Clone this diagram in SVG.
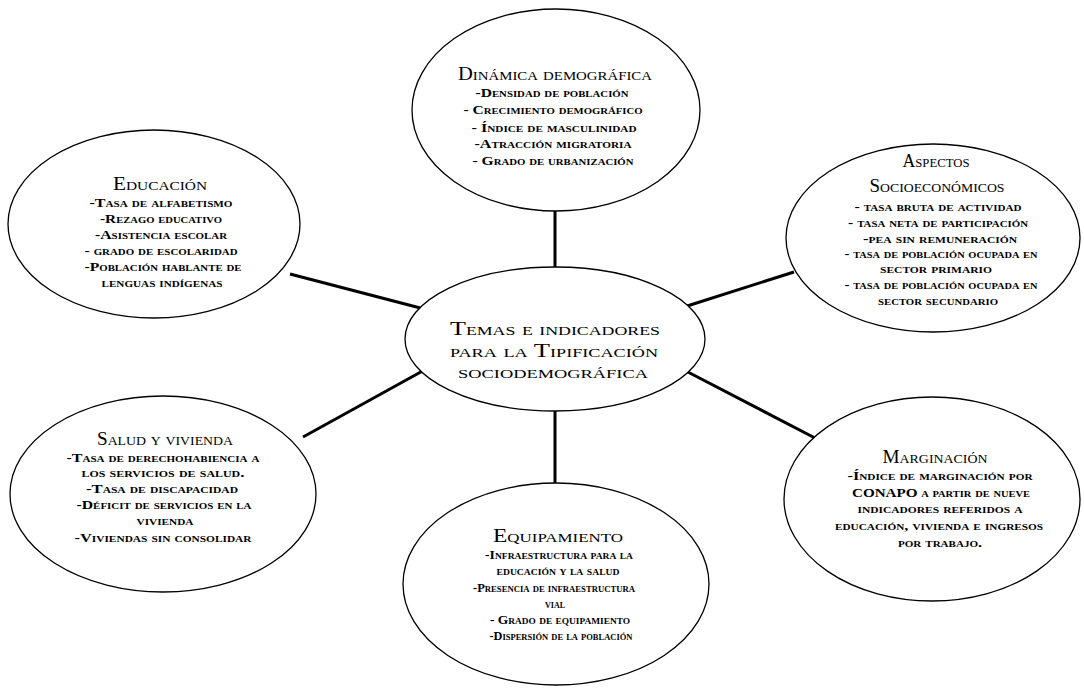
<svg xmlns="http://www.w3.org/2000/svg" width="1084" height="689" viewBox="0 0 1084 689">
<style>
.e{fill:#fff;stroke:#000;stroke-width:1.3}
.c{stroke:#000;stroke-width:3;fill:none}
text{font-family:"Liberation Serif","Times New Roman",serif;font-variant:small-caps;text-anchor:middle;fill:#000}
.t{font-size:18px}
.m{font-size:19px}
.i{font-size:13px;font-weight:bold}
</style>
<rect width="1084" height="689" fill="#fff"/>
<g id="connectors">
<line class="c" x1="555" y1="210" x2="555" y2="268"/>
<line class="c" x1="290" y1="274" x2="428" y2="310"/>
<line class="c" x1="684" y1="307" x2="794" y2="272"/>
<line class="c" x1="428" y1="368" x2="303" y2="437"/>
<line class="c" x1="684" y1="370" x2="815" y2="438"/>
<line class="c" x1="555" y1="410" x2="555" y2="483"/>
</g>
<g id="dinamica">
<ellipse class="e" cx="556" cy="110" rx="144" ry="101"/>
<text class="t" x="555" y="80" textLength="194" lengthAdjust="spacingAndGlyphs">Dinámica demográfica</text>
<text class="i" x="552" y="97" textLength="153" lengthAdjust="spacingAndGlyphs">-Densidad de población</text>
<text class="i" x="553" y="114" textLength="179" lengthAdjust="spacingAndGlyphs">- Crecimiento demográfico</text>
<text class="i" x="554" y="132" textLength="165" lengthAdjust="spacingAndGlyphs">- Índice de masculinidad</text>
<text class="i" x="553" y="148" textLength="157" lengthAdjust="spacingAndGlyphs">-Atracción migratoria</text>
<text class="i" x="553" y="165" textLength="161" lengthAdjust="spacingAndGlyphs">- Grado de urbanización</text>
</g>
<g id="educacion">
<ellipse class="e" cx="154" cy="224" rx="146" ry="94"/>
<text class="t" x="160" y="190" textLength="94" lengthAdjust="spacingAndGlyphs">Educación</text>
<text class="i" x="161" y="207" textLength="143" lengthAdjust="spacingAndGlyphs">-Tasa de alfabetismo</text>
<text class="i" x="161" y="223" textLength="122" lengthAdjust="spacingAndGlyphs">-Rezago educativo</text>
<text class="i" x="161" y="239" textLength="132" lengthAdjust="spacingAndGlyphs">-Asistencia escolar</text>
<text class="i" x="161" y="255" textLength="153" lengthAdjust="spacingAndGlyphs">- grado de escolaridad</text>
<text class="i" x="163" y="271" textLength="157" lengthAdjust="spacingAndGlyphs">-Población hablante de</text>
<text class="i" x="162" y="287" textLength="121" lengthAdjust="spacingAndGlyphs">lenguas indígenas</text>
</g>
<g id="aspectos">
<ellipse class="e" cx="933" cy="238" rx="147" ry="94"/>
<text class="t" x="936" y="167" textLength="67" lengthAdjust="spacingAndGlyphs">Aspectos</text>
<text class="t" x="937" y="192" textLength="135" lengthAdjust="spacingAndGlyphs">Socioeconómicos</text>
<text class="i" x="938" y="211" textLength="167" lengthAdjust="spacingAndGlyphs">- tasa bruta de actividad</text>
<text class="i" x="938" y="227" textLength="180" lengthAdjust="spacingAndGlyphs">- tasa neta de participación</text>
<text class="i" x="940" y="243" textLength="154" lengthAdjust="spacingAndGlyphs">-pea sin remuneración</text>
<text class="i" x="941" y="258" textLength="193" lengthAdjust="spacingAndGlyphs">- tasa de población ocupada en</text>
<text class="i" x="936" y="273" textLength="112" lengthAdjust="spacingAndGlyphs">sector primario</text>
<text class="i" x="941" y="289" textLength="193" lengthAdjust="spacingAndGlyphs">- tasa de población ocupada en</text>
<text class="i" x="938" y="305" textLength="120" lengthAdjust="spacingAndGlyphs">sector secundario</text>
</g>
<g id="centro">
<ellipse class="e" cx="555" cy="339" rx="150" ry="72"/>
<text class="m" x="555" y="335" textLength="210" lengthAdjust="spacingAndGlyphs">Temas e indicadores</text>
<text class="m" x="554" y="357" textLength="208" lengthAdjust="spacingAndGlyphs">para la Tipificación</text>
<text class="m" x="553" y="378" textLength="190" lengthAdjust="spacingAndGlyphs">sociodemográfica</text>
</g>
<g id="salud">
<ellipse class="e" cx="163" cy="494" rx="153" ry="98"/>
<text class="t" x="165" y="445" textLength="136" lengthAdjust="spacingAndGlyphs">Salud y vivienda</text>
<text class="i" x="163" y="462" textLength="193" lengthAdjust="spacingAndGlyphs">-Tasa de derechohabiencia a</text>
<text class="i" x="163" y="477" textLength="163" lengthAdjust="spacingAndGlyphs">los servicios de salud.</text>
<text class="i" x="162" y="493" textLength="152" lengthAdjust="spacingAndGlyphs">-Tasa de discapacidad</text>
<text class="i" x="164" y="509" textLength="175" lengthAdjust="spacingAndGlyphs">-Déficit de servicios en la</text>
<text class="i" x="165" y="525" textLength="57" lengthAdjust="spacingAndGlyphs">vivienda</text>
<text class="i" x="163" y="542" textLength="177" lengthAdjust="spacingAndGlyphs">-Viviendas sin consolidar</text>
</g>
<g id="marginacion">
<ellipse class="e" cx="932" cy="499" rx="148" ry="102"/>
<text class="t" x="935" y="463" textLength="105" lengthAdjust="spacingAndGlyphs">Marginación</text>
<text class="i" x="940" y="480" textLength="185" lengthAdjust="spacingAndGlyphs">-Índice de marginación por</text>
<text class="i" x="941" y="497" textLength="178" lengthAdjust="spacingAndGlyphs">CONAPO a partir de nueve</text>
<text class="i" x="940" y="513" textLength="165" lengthAdjust="spacingAndGlyphs">indicadores referidos a</text>
<text class="i" x="939" y="530" textLength="208" lengthAdjust="spacingAndGlyphs">educación, vivienda e ingresos</text>
<text class="i" x="940" y="547" textLength="84" lengthAdjust="spacingAndGlyphs">por trabajo.</text>
</g>
<g id="equipamiento">
<ellipse class="e" cx="556" cy="584" rx="153" ry="101"/>
<text class="t" x="558" y="542" textLength="130" lengthAdjust="spacingAndGlyphs">Equipamiento</text>
<text class="i" x="559" y="559" textLength="148" lengthAdjust="spacingAndGlyphs">-Infraestructura para la</text>
<text class="i" x="558" y="575" textLength="123" lengthAdjust="spacingAndGlyphs">educación y la salud</text>
<text class="i" x="554" y="592" textLength="162" lengthAdjust="spacingAndGlyphs">-Presencia de infraestructura</text>
<text class="i" x="555" y="608" textLength="20" lengthAdjust="spacingAndGlyphs">vial</text>
<text class="i" x="560" y="624" textLength="140" lengthAdjust="spacingAndGlyphs">- Grado de equipamiento</text>
<text class="i" x="561" y="640" textLength="143" lengthAdjust="spacingAndGlyphs">-Dispersión de la población</text>
</g>
</svg>
